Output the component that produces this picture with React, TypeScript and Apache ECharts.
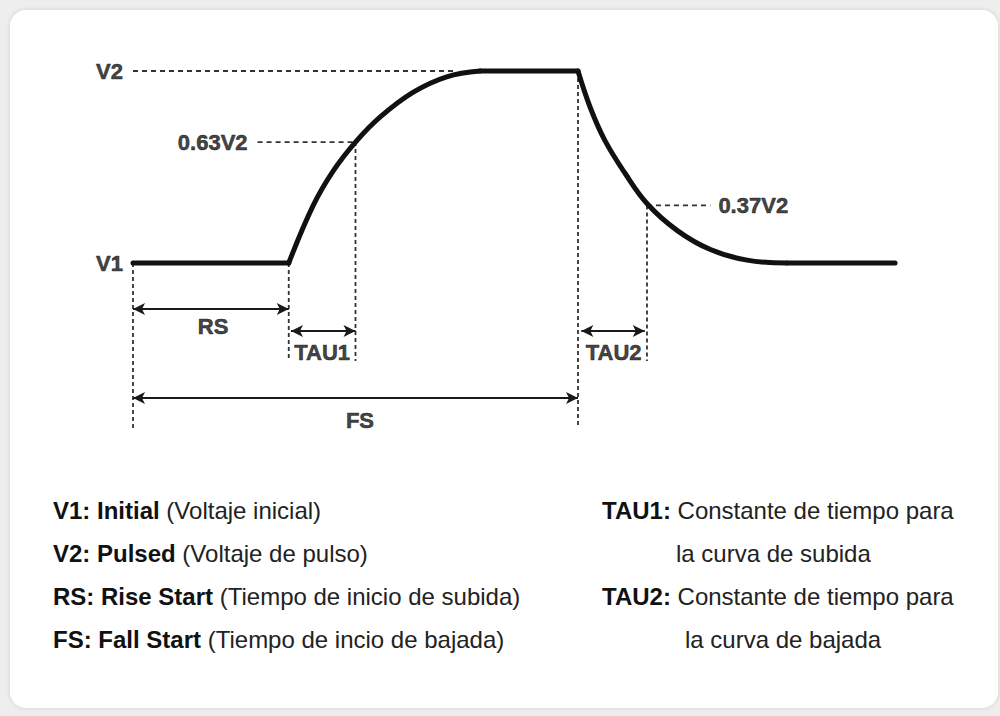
import React, { useEffect, useRef } from "react";
import * as echarts from "echarts";

// Time axis in arbitrary units, voltage normalised (V1 = 0, V2 = 1)
const flatStart: number[][] = [[0, 0], [7, 0]];
const riseCurve: number[][] = [[7, 0], [8.1, 0.3], [9, 0.48], [10, 0.63], [11.1, 0.76], [12.6, 0.89], [14.1, 0.97], [15.6, 1]];
const flatTop: number[][] = [[15.6, 1], [20, 1]];
const fallCurve: number[][] = [[20, 1], [20.55, 0.81], [21.2, 0.64], [22.1, 0.47], [23.1, 0.31], [24.45, 0.17], [25.95, 0.07], [27.6, 0.015], [29.4, 0]];
const flatEnd: number[][] = [[29.4, 0], [34.25, 0]];

const guidesH: number[][][] = [
  [[0, 1], [14.5, 1]],
  [[5.6, 0.63], [10, 0.63]],
  [[23.1, 0.3], [25.95, 0.3]],
];
const guidesV: number[][][] = [
  [[0, 0], [0, -0.86]],
  [[7, 0], [7, -0.51]],
  [[10, 0.63], [10, -0.51]],
  [[20, 1], [20, -0.86]],
  [[23.1, 0.3], [23.1, -0.51]],
];
const arrows: number[][][] = [
  [[0, -0.24], [7, -0.24]],
  [[7.1, -0.354], [10, -0.354]],
  [[20.15, -0.354], [23, -0.354]],
  [[0, -0.703], [20, -0.703]],
];
const spanLabels = ["RS", "TAU1", "TAU2", "FS"];
const spanLabelPos: number[][] = [[3.6, -0.333], [8.5, -0.464], [21.6, -0.464], [10.2, -0.818]];
const levelLabels = ["V2", "V1", "0.63V2"];
const levelLabelPos: number[][] = [[0, 1], [0, 0], [5.6, 0.63]];
const rightLabel = "0.37V2";
const rightLabelPos: number[] = [25.95, 0.3];

const legendLeft = [
  ["V1: Initial", " (Voltaje inicial)"],
  ["V2: Pulsed", " (Voltaje de pulso)"],
  ["RS: Rise Start", " (Tiempo de inicio de subida)"],
  ["FS: Fall Start", " (Tiempo de incio de bajada)"],
];
const legendRight = [
  ["TAU1:", " Constante de tiempo para"],
  ["", "la curva de subida"],
  ["TAU2:", " Constante de tiempo para"],
  ["", "la curva de bajada"],
];

const FONT = "'Liberation Sans', Arial, sans-serif";
const INK = "#111111";

export default function App() {
  const ref = useRef<HTMLDivElement>(null);
  useEffect(() => {
    if (!ref.current) return;
    const chart = echarts.init(ref.current, undefined, { renderer: "svg" });

    const curveSeries = [flatStart, riseCurve, flatTop, fallCurve, flatEnd].map((d, i) => ({
      type: "line",
      data: d,
      symbol: "none",
      clip: false,
      smooth: i === 1 || i === 3 ? 0.4 : false,
      lineStyle: { color: INK, width: 5, cap: "round", join: "round" },
      z: 5,
    }));
    const guideSeries = [
      ...guidesH.map((d) => ({ d, dash: [5, 4] })),
      ...guidesV.map((d) => ({ d, dash: [4, 3] })),
    ].map((g) => ({
      type: "line",
      data: g.d,
      symbol: "none",
      clip: false,
      lineStyle: { color: "#333333", width: 1.8, type: g.dash },
      z: 2,
    }));
    const arrowSeries = {
      type: "line",
      data: [],
      symbol: "none",
      markLine: {
        silent: true,
        symbol: ["arrow", "arrow"],
        symbolSize: [9, 12],
        label: { show: false },
        lineStyle: { color: "#1a1a1a", width: 2, type: "solid" },
        data: arrows.map((a) => [{ coord: a[0] }, { coord: a[1] }]),
      },
    };
    const labelStyle = {
      fontFamily: FONT,
      fontWeight: "bold",
      fontSize: 22,
      color: INK,
      textBorderColor: INK,
      textBorderWidth: 0.6,
    };
    const labelSeries = [
      {
        type: "scatter",
        symbolSize: 0,
        clip: false,
        data: spanLabels.map((n, i) => ({ name: n, value: spanLabelPos[i] })),
        label: { show: true, position: "inside", formatter: "{b}", ...labelStyle },
      },
      {
        type: "scatter",
        symbolSize: 0,
        clip: false,
        data: levelLabels.map((n, i) => ({ name: n, value: levelLabelPos[i] })),
        label: { show: true, position: "left", distance: 10, formatter: "{b}", ...labelStyle },
      },
      {
        type: "scatter",
        symbolSize: 0,
        clip: false,
        data: [{ name: rightLabel, value: rightLabelPos }],
        label: { show: true, position: "right", distance: 8, formatter: "{b}", ...labelStyle },
      },
    ];

    const rich = {
      b: { fontFamily: FONT, fontWeight: "bold", fontSize: 24, fill: INK },
    };
    const legendText = (rows: string[][], xs: number[]) =>
      rows.map((r, i) => ({
        type: "text",
        left: xs[i],
        top: 498 + i * 43,
        silent: true,
        style: {
          text: (r[0] ? "{b|" + r[0] + "}" : "") + r[1],
          fontFamily: FONT,
          fontSize: 24,
          fill: "#222222",
          rich,
        },
      }));

    chart.setOption({
      animation: false,
      grid: { left: 133, right: 66, top: 71, bottom: 261 },
      xAxis: { type: "value", min: 0, max: 36, show: false },
      yAxis: { type: "value", min: -1, max: 1, show: false },
      series: [...guideSeries, ...curveSeries, arrowSeries, ...labelSeries],
      graphic: [
        ...legendText(legendLeft, [53, 53, 53, 53]),
        ...legendText(legendRight, [602, 676, 602, 685]),
      ],
    });
    return () => chart.dispose();
  }, []);

  return (
    <div style={{ position: "absolute", left: 0, top: 0, width: 1000, height: 716, background: "#eeeeee", overflow: "hidden" }}>
      <div
        style={{
          position: "absolute",
          left: 10,
          top: 10,
          width: 988,
          height: 698,
          background: "#ffffff",
          borderRadius: 16,
          boxShadow: "0 0 5px rgba(0,0,0,0.12)",
        }}
      />
      <div ref={ref} style={{ position: "absolute", left: 0, top: 0, width: 1000, height: 716 }} />
    </div>
  );
}
